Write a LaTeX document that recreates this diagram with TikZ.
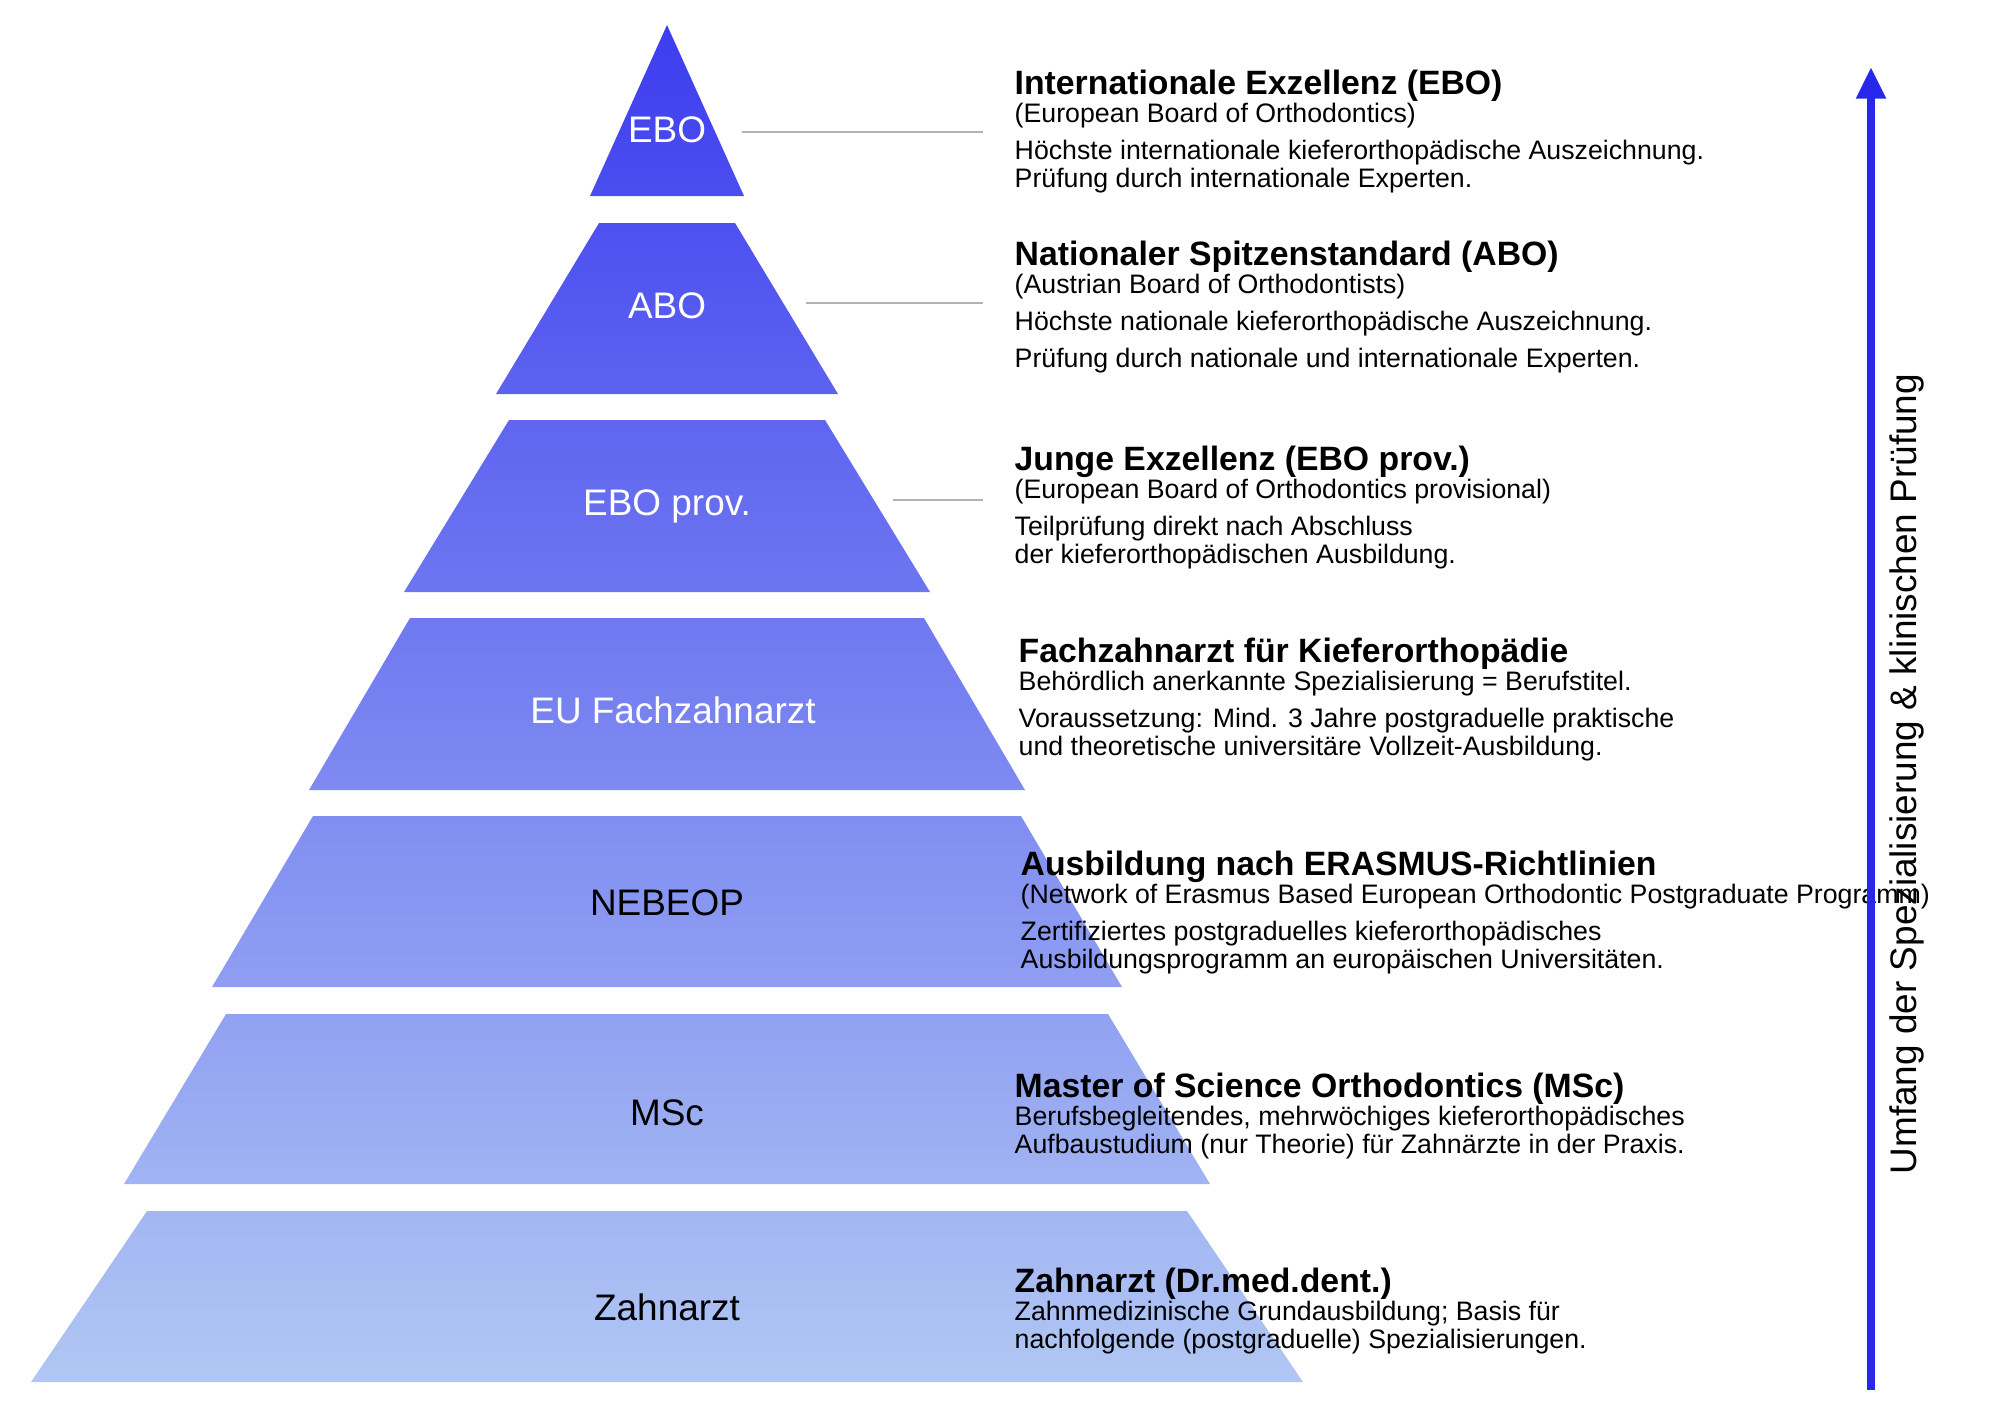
\documentclass[tikz,border=0pt]{standalone}
\usepackage{fontspec}
\setmainfont{Liberation Sans}
\usetikzlibrary{arrows.meta}
\definecolor{pyrtop}{RGB}{61,61,239}
\definecolor{pyrbot}{RGB}{178,200,243}
\definecolor{axisblue}{RGB}{40,40,235}
\tikzset{
  tier/.style = {draw = none},
  tierlabel/.style = {font = \fontsize{10.5}{12}\selectfont, inner sep = 0pt},
  info/.style = {anchor = north west, align = left, inner sep = 0pt,
                 font = \fontsize{7.6}{7.97}\selectfont},
  leader/.style = {draw = gray!60, line width = 0.5pt}
}
\newcommand{\head}[1]{{\fontsize{9.6}{7.97}\selectfont\bfseries #1}}
\begin{document}
\begin{tikzpicture}[x = 0.01cm, y = -0.01cm]
    \useasboundingbox (0,0) rectangle (2000,1414);
    % pyramid tiers: name / label / top y / bottom y / top half width / bottom half width / text colour
    \foreach \nm/\lab/\yt/\yb/\wt/\wb/\tc in {
        ebo/EBO/25/196/0/77/white,
        abo/ABO/223/394/68/171/white,
        prov/EBO prov./420/592/158/263/white,
        eu/EU Fachzahnarzt/618/790/257/358/white,
        neb/NEBEOP/816/987/354/455/black,
        msc/MSc/1014/1184/441/543/black,
        zahn/Zahnarzt/1211/1382/520/636/black} {
        \pgfmathtruncatemacro{\pt}{(\yt-25)/13.57}
        \pgfmathtruncatemacro{\pb}{(\yb-25)/13.57}
        \shade[tier, top color = pyrbot!\pt!pyrtop, bottom color = pyrbot!\pb!pyrtop]
            (667-\wt,\yt) -- (667+\wt,\yt) -- (667+\wb,\yb) -- (667-\wb,\yb) -- cycle;
    }
    \node[tierlabel, text = white] (ebolab) at (667,130) {EBO};
    \node[tierlabel, text = white] (abolab) at (667,306) {ABO};
    \node[tierlabel, text = white] (provlab) at (667,506) {EBO prov.};
    \node[tierlabel, text = white] (eulab) at (673,710) {EU Fachzahnarzt};
    \node[tierlabel] (neblab) at (667,903) {NEBEOP};
    \node[tierlabel] (msclab) at (667,1113) {MSc};
    \node[tierlabel] (zahnlab) at (667,1307) {Zahnarzt};
    % leader lines
    \coordinate (l1a) at (742,132); \coordinate (l1b) at (983,132);
    \coordinate (l2a) at (806,303); \coordinate (l2b) at (983,303);
    \coordinate (l3a) at (893,500); \coordinate (l3b) at (983,500);
    \draw[leader] (l1a) -- (l1b);
    \draw[leader] (l2a) -- (l2b);
    \draw[leader] (l3a) -- (l3b);
    % descriptions
    \node[info] (ebotxt) at (1014,69) {\head{Internationale Exzellenz (EBO)}\\(European Board of Orthodontics)\\[2.6pt]
        Höchste internationale kieferorthopädische Auszeichnung.\\Prüfung durch internationale Experten.};
    \node[info] (abotxt) at (1014,240) {\head{Nationaler Spitzenstandard (ABO)}\\(Austrian Board of Orthodontists)\\[2.6pt]
        Höchste nationale kieferorthopädische Auszeichnung.\\[2.6pt]Prüfung durch nationale und internationale Experten.};
    \node[info] (provtxt) at (1014,445) {\head{Junge Exzellenz (EBO prov.)}\\(European Board of Orthodontics provisional)\\[2.6pt]
        Teilprüfung direkt nach Abschluss\\der kieferorthopädischen Ausbildung.};
    \node[info] (eutxt) at (1018,637) {\head{Fachzahnarzt für Kieferorthopädie}\\Behördlich anerkannte Spezialisierung = Berufstitel.\\[2.6pt]
        Voraussetzung: Mind. 3 Jahre postgraduelle praktische\\und theoretische universitäre Vollzeit-Ausbildung.};
    \node[info] (nebtxt) at (1020,850) {\head{Ausbildung nach ERASMUS-Richtlinien}\\(Network of Erasmus Based European Orthodontic Postgraduate Programm)\\[2.6pt]
        Zertifiziertes postgraduelles kieferorthopädisches\\Ausbildungsprogramm an europäischen Universitäten.};
    \node[info] (msctxt) at (1014,1072) {\head{Master of Science Orthodontics (MSc)}\\Berufsbegleitendes, mehrwöchiges kieferorthopädisches\\
        Aufbaustudium (nur Theorie) für Zahnärzte in der Praxis.};
    \node[info] (zahntxt) at (1014,1267) {\head{Zahnarzt (Dr.med.dent.)}\\Zahnmedizinische Grundausbildung; Basis für\\
        nachfolgende (postgraduelle) Spezialisierungen.};
    % axis
    \coordinate (axbot) at (1871,1390);
    \coordinate (axtop) at (1871,67);
    \draw[axisblue, line width = 2.2pt, -{Triangle[length = 9pt, width = 8pt]}] (axbot) -- (axtop);
    \node[tierlabel, rotate = 90] (axlab) at (1907,774) {Umfang der Spezialisierung \& klinischen Prüfung};
\end{tikzpicture}
\end{document}
